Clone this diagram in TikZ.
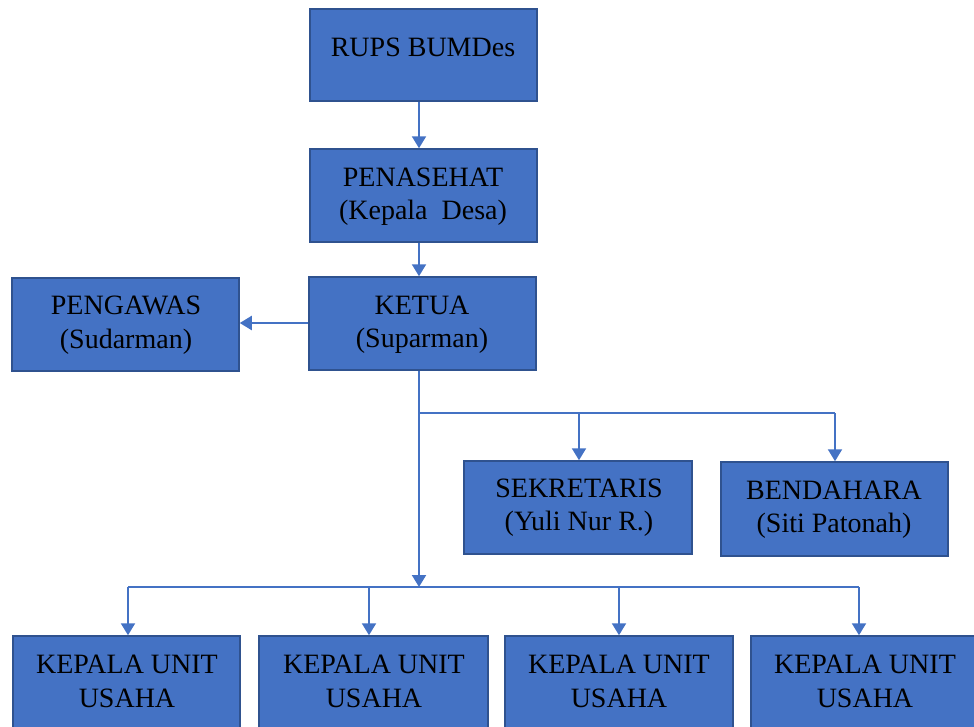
\documentclass[tikz,border=0pt]{standalone}
\usepackage{fontspec}
\setmainfont{Liberation Serif}
\usetikzlibrary{arrows.meta}
\definecolor{boxfill}{HTML}{4472C4}
\definecolor{boxline}{HTML}{2F528F}
\definecolor{conn}{HTML}{4472C4}
\begin{document}
\begin{tikzpicture}[x=1pt,y=-1pt,
  box/.style={draw=boxline,fill=boxfill,line width=1.5pt,inner sep=0pt,minimum height=92pt,minimum width=227pt},
  txt/.style={anchor=base,inner sep=0pt,font=\fontsize{28}{33}\selectfont,text=black},
  arr/.style={draw=conn,line width=2pt,-{Triangle[width=14pt,length=12pt]}},
  thin/.style={draw=conn,line width=1.2pt}]
\useasboundingbox (0,0) rectangle (974,726);
\clip (0,0) rectangle (974,726);
% boxes
\node[box] (rups) at (423.5,55) {};
\node[box,minimum height=93pt] (pen) at (423.5,195.5) {};
\node[box,minimum height=93pt] (ketua) at (422.5,323.5) {};
\node[box,minimum height=93pt] (peng) at (125.5,324.5) {};
\node[box,minimum width=228pt,minimum height=93pt] (sek) at (578,507.5) {};
\node[box,minimum height=94pt] (bend) at (834.5,509) {};
\node[box] (k1) at (126.5,682) {};
\node[box,minimum width=229pt] (k2) at (373.5,682) {};
\node[box,minimum width=228pt] (k3) at (619,682) {};
\node[box] (k4) at (864.5,682) {};
% texts
\node[txt] (t1) at (423,56) {RUPS BUMDes};
\node[txt] (t2a) at (423,186) {PENASEHAT};
\node[txt] (t2b) at (423,219) {(Kepala\ \ Desa)};
\node[txt] (t3a) at (422,314) {KETUA};
\node[txt] (t3b) at (422,347) {(Suparman)};
\node[txt] (t4a) at (126,314) {PENGAWAS};
\node[txt] (t4b) at (126,348) {(Sudarman)};
\node[txt] (t5a) at (579,497) {SEKRETARIS};
\node[txt] (t5b) at (579,530) {(Yuli Nur R.)};
\node[txt] (t6a) at (834,499) {BENDAHARA};
\node[txt] (t6b) at (834,532) {(Siti Patonah)};
\node[txt] (t7a) at (127,673) {KEPALA UNIT};
\node[txt] (t7b) at (127,707) {USAHA};
\node[txt] (t8a) at (374,673) {KEPALA UNIT};
\node[txt] (t8b) at (374,707) {USAHA};
\node[txt] (t9a) at (619,673) {KEPALA UNIT};
\node[txt] (t9b) at (619,707) {USAHA};
\node[txt] (t10a) at (865,673) {KEPALA UNIT};
\node[txt] (t10b) at (865,707) {USAHA};
% connector coordinates
\coordinate (cx) at (419,0);
\coordinate (ja) at (419,413);
\coordinate (jb) at (419,587);
\coordinate (s1) at (579,413);
\coordinate (s2) at (835,413);
\coordinate (b1) at (128,587);
\coordinate (b2) at (369,587);
\coordinate (b3) at (619,587);
\coordinate (b4) at (859,587);
% connectors
\draw[arr] (rups.south -| cx) -- (pen.north -| cx);
\draw[arr] (pen.south -| cx) -- (ketua.north -| cx);
\draw[arr] (ketua.west |- 0,323) -- (peng.east |- 0,323);
\draw[thin] (ja) -- (s2);
\draw[thin] (b1) -- (b4);
\draw[arr] (ketua.south -| cx) -- (jb);
\draw[arr] (s1) -- (sek.north -| s1);
\draw[arr] (s2) -- (bend.north -| s2);
\draw[arr] (b1) -- (k1.north -| b1);
\draw[arr] (b2) -- (k2.north -| b2);
\draw[arr] (b3) -- (k3.north -| b3);
\draw[arr] (b4) -- (k4.north -| b4);
\end{tikzpicture}
\end{document}
